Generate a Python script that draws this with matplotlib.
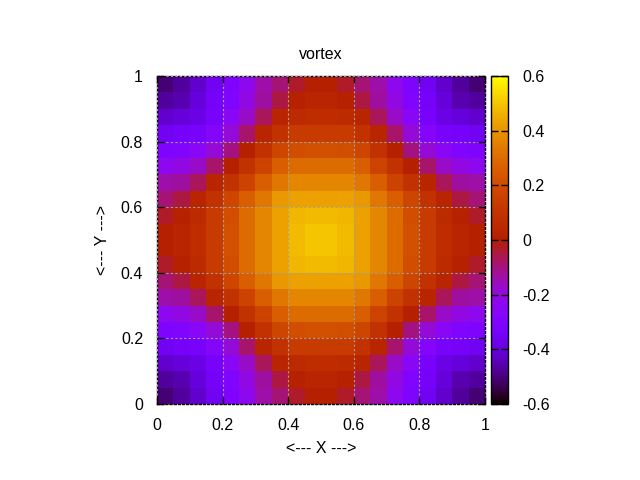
"""Gnuplot-style 'vortex' heatmap, 20x20 cells, palette 7,5,15."""
import numpy as np
import matplotlib
matplotlib.use("Agg")
import matplotlib.pyplot as plt

plt.rcParams["font.family"] = ["Liberation Sans", "DejaVu Sans"]

TITLE = "vortex"
X_LABEL = "<--- X --->"
Y_LABEL = "<--- Y --->"
X_RANGE = [0.0, 1.0]
Y_RANGE = [0.0, 1.0]
AXIS_TICKS = [0, 0.2, 0.4, 0.6, 0.8, 1]
AXIS_TICK_LABELS = ["0", "0.2", "0.4", "0.6", "0.8", "1"]
CB_RANGE = [-0.6, 0.6]
CB_TICKS = [-0.6, -0.4, -0.2, 0, 0.2, 0.4, 0.6]
CB_TICK_LABELS = ["-0.6", "-0.4", "-0.2", "0", "0.2", "0.4", "0.6"]

# cell values, first row = top (y near 1)
vortex = np.array([
    [-0.51, -0.47, -0.42, -0.36, -0.30, -0.23, -0.14, -0.09, -0.03, 0.00, 0.00, -0.03, -0.09, -0.14, -0.23, -0.30, -0.36, -0.42, -0.47, -0.51],
    [-0.47, -0.45, -0.40, -0.34, -0.29, -0.21, -0.13, -0.05, 0.01, 0.03, 0.03, 0.01, -0.05, -0.13, -0.21, -0.29, -0.34, -0.40, -0.45, -0.47],
    [-0.42, -0.40, -0.38, -0.33, -0.25, -0.17, -0.07, 0.03, 0.06, 0.07, 0.07, 0.06, 0.03, -0.07, -0.17, -0.25, -0.33, -0.38, -0.40, -0.42],
    [-0.36, -0.34, -0.33, -0.27, -0.19, -0.08, 0.03, 0.10, 0.14, 0.14, 0.14, 0.14, 0.10, 0.03, -0.08, -0.19, -0.27, -0.33, -0.34, -0.36],
    [-0.30, -0.29, -0.25, -0.19, -0.10, 0.00, 0.10, 0.18, 0.21, 0.22, 0.22, 0.21, 0.18, 0.10, 0.00, -0.10, -0.19, -0.25, -0.29, -0.30],
    [-0.23, -0.21, -0.17, -0.08, 0.00, 0.10, 0.17, 0.26, 0.30, 0.30, 0.30, 0.30, 0.26, 0.17, 0.10, 0.00, -0.08, -0.17, -0.21, -0.23],
    [-0.14, -0.13, -0.07, 0.03, 0.10, 0.17, 0.26, 0.33, 0.37, 0.37, 0.37, 0.37, 0.33, 0.26, 0.17, 0.10, 0.03, -0.07, -0.13, -0.14],
    [-0.09, -0.05, 0.03, 0.10, 0.18, 0.26, 0.33, 0.41, 0.43, 0.43, 0.43, 0.43, 0.41, 0.33, 0.26, 0.18, 0.10, 0.03, -0.05, -0.09],
    [-0.03, 0.01, 0.06, 0.14, 0.21, 0.30, 0.37, 0.43, 0.47, 0.48, 0.48, 0.47, 0.43, 0.37, 0.30, 0.21, 0.14, 0.06, 0.01, -0.03],
    [0.00, 0.03, 0.07, 0.14, 0.22, 0.30, 0.37, 0.43, 0.48, 0.50, 0.50, 0.48, 0.43, 0.37, 0.30, 0.22, 0.14, 0.07, 0.03, 0.00],
    [0.00, 0.03, 0.07, 0.14, 0.22, 0.30, 0.37, 0.43, 0.48, 0.50, 0.50, 0.48, 0.43, 0.37, 0.30, 0.22, 0.14, 0.07, 0.03, 0.00],
    [-0.03, 0.01, 0.06, 0.14, 0.21, 0.30, 0.37, 0.43, 0.47, 0.48, 0.48, 0.47, 0.43, 0.37, 0.30, 0.21, 0.14, 0.06, 0.01, -0.03],
    [-0.09, -0.05, 0.03, 0.10, 0.18, 0.26, 0.33, 0.41, 0.43, 0.43, 0.43, 0.43, 0.41, 0.33, 0.26, 0.18, 0.10, 0.03, -0.05, -0.09],
    [-0.14, -0.13, -0.07, 0.03, 0.10, 0.17, 0.26, 0.33, 0.37, 0.37, 0.37, 0.37, 0.33, 0.26, 0.17, 0.10, 0.03, -0.07, -0.13, -0.14],
    [-0.23, -0.21, -0.17, -0.08, 0.00, 0.10, 0.17, 0.26, 0.30, 0.30, 0.30, 0.30, 0.26, 0.17, 0.10, 0.00, -0.08, -0.17, -0.21, -0.23],
    [-0.30, -0.29, -0.25, -0.19, -0.10, 0.00, 0.10, 0.18, 0.21, 0.22, 0.22, 0.21, 0.18, 0.10, 0.00, -0.10, -0.19, -0.25, -0.29, -0.30],
    [-0.36, -0.34, -0.33, -0.27, -0.19, -0.08, 0.03, 0.10, 0.14, 0.14, 0.14, 0.14, 0.10, 0.03, -0.08, -0.19, -0.27, -0.33, -0.34, -0.36],
    [-0.42, -0.40, -0.38, -0.33, -0.25, -0.17, -0.07, 0.03, 0.06, 0.07, 0.07, 0.06, 0.03, -0.07, -0.17, -0.25, -0.33, -0.38, -0.40, -0.42],
    [-0.47, -0.45, -0.40, -0.34, -0.29, -0.21, -0.13, -0.05, 0.01, 0.03, 0.03, 0.01, -0.05, -0.13, -0.21, -0.29, -0.34, -0.40, -0.45, -0.47],
    [-0.51, -0.47, -0.42, -0.36, -0.30, -0.23, -0.14, -0.09, -0.03, 0.00, 0.00, -0.03, -0.09, -0.14, -0.23, -0.30, -0.36, -0.42, -0.47, -0.51],
])

FS = 11.5

fig = plt.figure(figsize=(6.4, 4.8), dpi=100)
ax = fig.add_axes([157 / 640, 76 / 480, 328 / 640, 328 / 480])
cax = fig.add_axes([491 / 640, 76 / 480, 17 / 640, 328 / 480])

im = ax.imshow(vortex, cmap="gnuplot", vmin=CB_RANGE[0], vmax=CB_RANGE[1],
               extent=[X_RANGE[0], X_RANGE[1], Y_RANGE[0], Y_RANGE[1]],
               origin="upper", interpolation="nearest", aspect="auto", zorder=1)
ax.set_xlim(X_RANGE)
ax.set_ylim(Y_RANGE)

ax.set_xticks(AXIS_TICKS)
ax.set_xticklabels(AXIS_TICK_LABELS)
ax.set_yticks(AXIS_TICKS)
ax.set_yticklabels(AXIS_TICK_LABELS)
ax.tick_params(direction="in", length=5, width=1, top=True, right=True,
               labelsize=FS, pad=10, colors="black")

ax.grid(True, color="#a0a0a0", linestyle=(0, (2, 2)), linewidth=0.8, zorder=2)
ax.set_axisbelow(False)
for sp in ax.spines.values():
    sp.set_linestyle((0, (1.5, 1.5)))
    sp.set_linewidth(1.0)
    sp.set_color("black")

ax.set_title(TITLE, fontsize=FS, pad=12)
ax.set_xlabel(X_LABEL, fontsize=FS, labelpad=6)
ax.set_ylabel(Y_LABEL, fontsize=FS, labelpad=8)

cb = fig.colorbar(im, cax=cax, ticks=CB_TICKS)
cb.ax.set_yticklabels(CB_TICK_LABELS)
cb.ax.tick_params(direction="in", length=5, width=1, left=True, right=True,
                  labelsize=FS, pad=10)
cb.outline.set_linewidth(1.0)

fig.savefig("out.png", dpi=100)
